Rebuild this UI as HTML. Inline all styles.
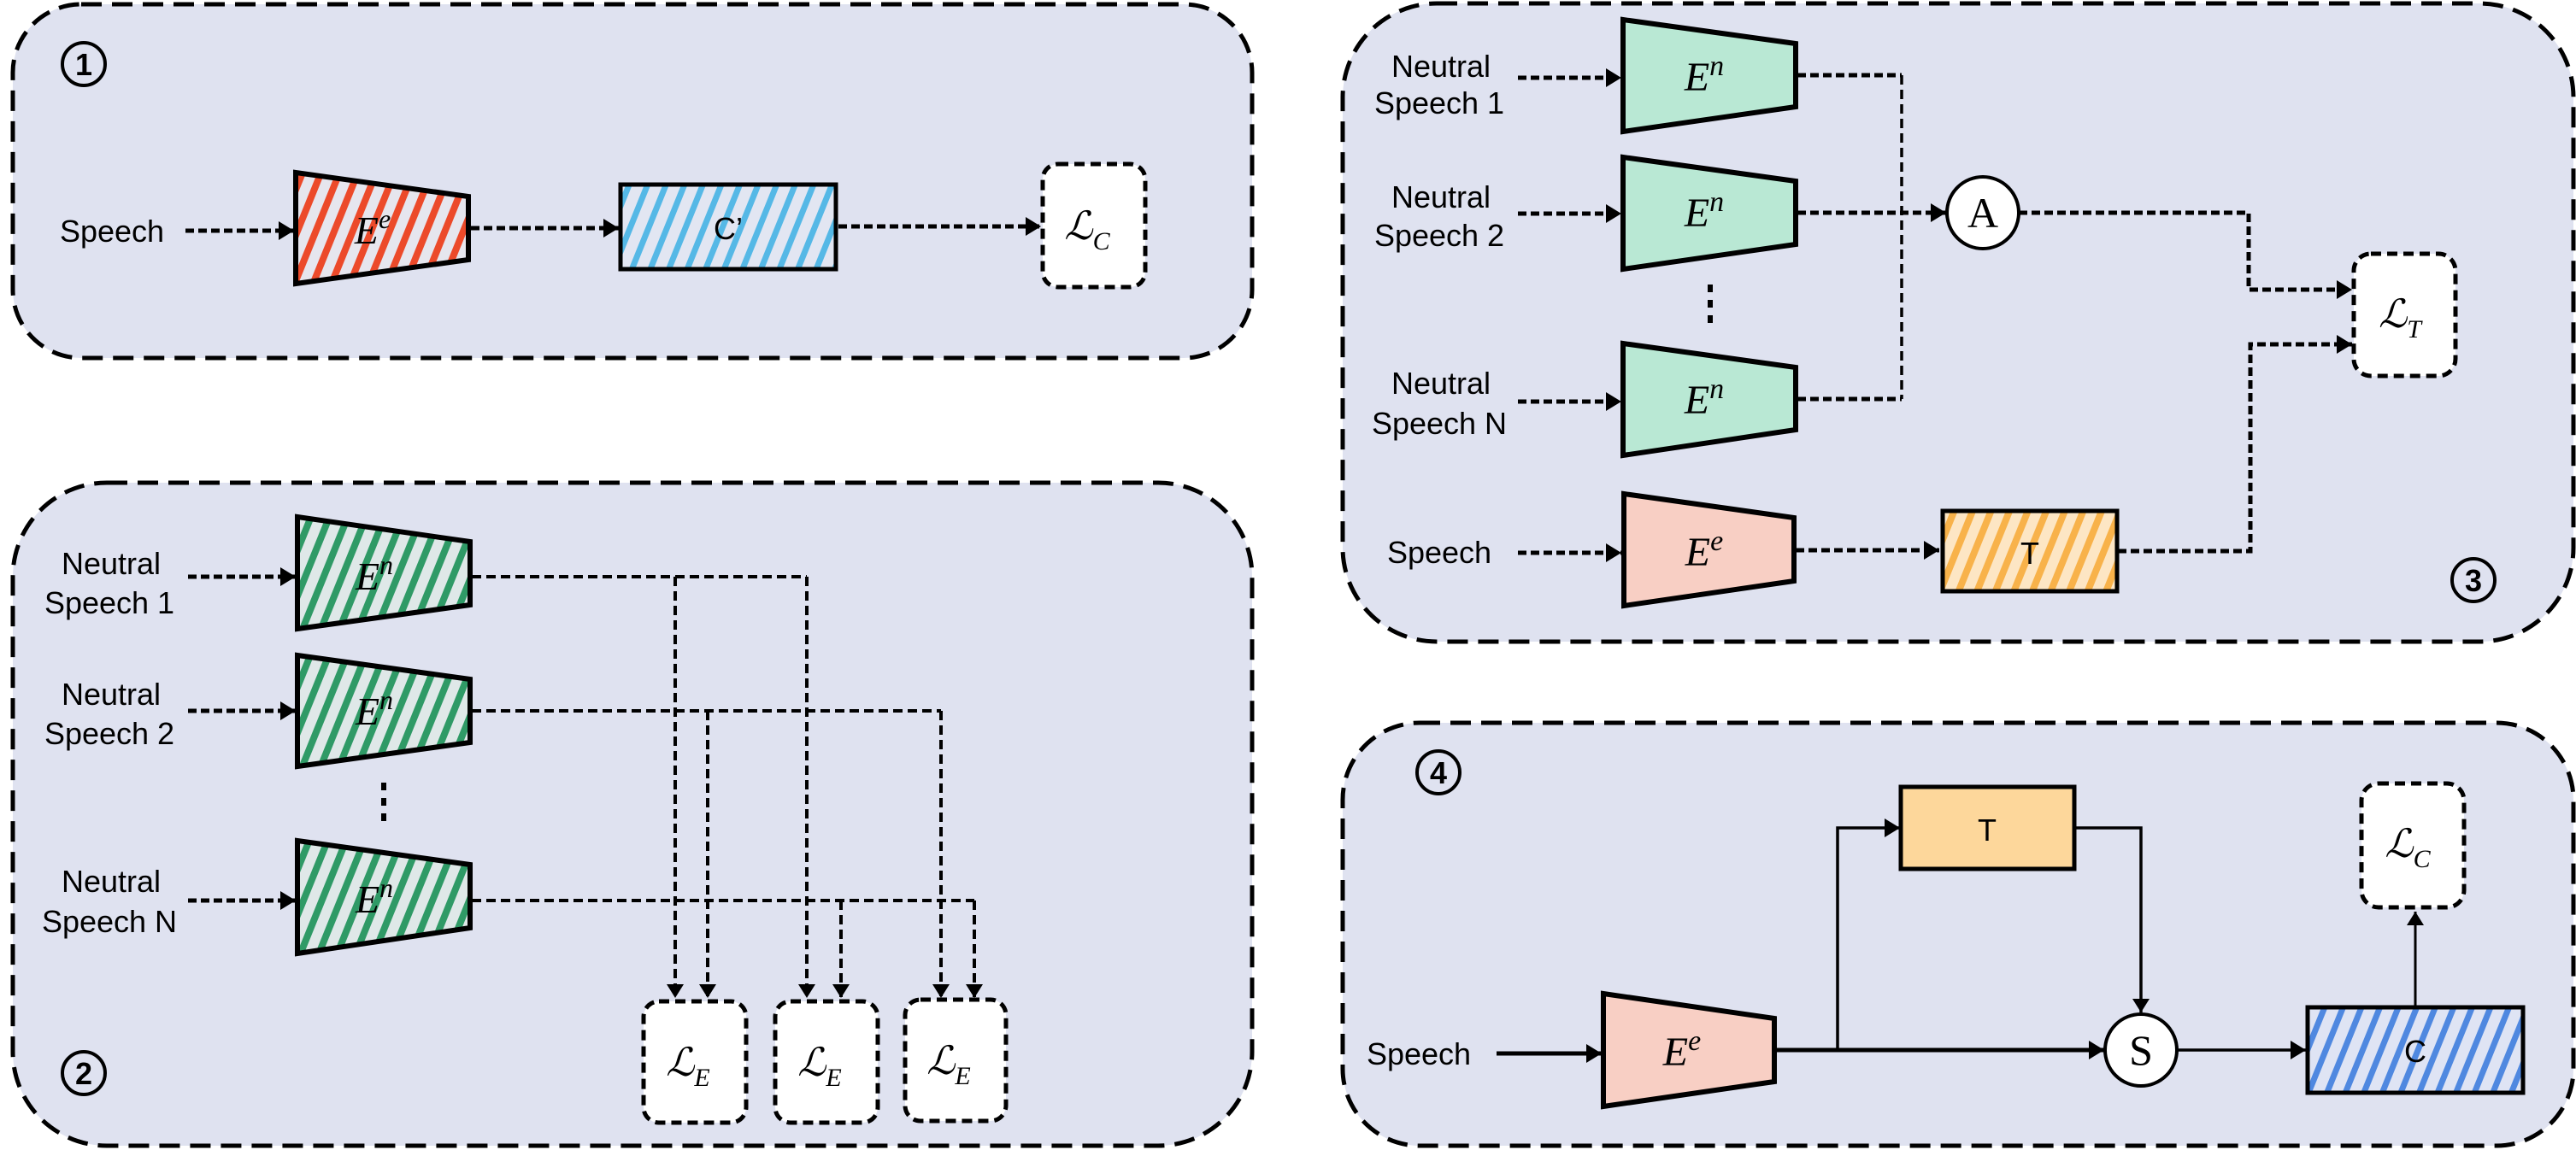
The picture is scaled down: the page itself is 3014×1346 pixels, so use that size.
<!DOCTYPE html>
<html><head><meta charset="utf-8"><style>
html,body{margin:0;padding:0;background:#fff;}
svg{display:block;}
.t{font-family:"Liberation Sans",sans-serif;font-size:36px;fill:#000;}
.m{font-family:"Liberation Serif",serif;font-style:italic;fill:#000;}
.n{font-family:"Liberation Sans",sans-serif;font-weight:bold;font-size:36px;}
</style></head><body>
<svg width="3014" height="1346" viewBox="0 0 3014 1346" xmlns="http://www.w3.org/2000/svg">
<defs>
<pattern id="hr" width="20" height="20" patternUnits="userSpaceOnUse" patternTransform="rotate(22)"><rect width="20" height="20" fill="#e6e6ee"/><rect width="8" height="20" fill="#ec4a2a"/></pattern>
<pattern id="hb" width="20" height="20" patternUnits="userSpaceOnUse" patternTransform="rotate(22)"><rect width="20" height="20" fill="#e2e6f2"/><rect width="7" height="20" fill="#55b8e6"/></pattern>
<pattern id="hg" width="20" height="20" patternUnits="userSpaceOnUse" patternTransform="rotate(22)"><rect width="20" height="20" fill="#dfe8e8"/><rect width="8" height="20" fill="#2f9a66"/></pattern>
<pattern id="ho" width="20" height="20" patternUnits="userSpaceOnUse" patternTransform="rotate(22)"><rect width="20" height="20" fill="#fde6c4"/><rect width="8" height="20" fill="#f8b24a"/></pattern>
<pattern id="hc" width="20" height="20" patternUnits="userSpaceOnUse" patternTransform="rotate(22)"><rect width="20" height="20" fill="#dfe4f4"/><rect width="7" height="20" fill="#4f88e0"/></pattern>
<marker id="a" markerUnits="userSpaceOnUse" markerWidth="20" markerHeight="22" refX="18" refY="11" orient="auto"><path d="M0,0 L18,11 L0,22 Z" fill="#000"/></marker>
<marker id="as" markerUnits="userSpaceOnUse" markerWidth="18" markerHeight="20" refX="16" refY="10" orient="auto"><path d="M0,0 L16,10 L0,20 Z" fill="#000"/></marker>
</defs>

<g fill="#dfe2f0" stroke="#000" stroke-width="5" stroke-dasharray="24 12">
<rect x="15" y="5" width="1450" height="414" rx="80"/>
<rect x="15" y="565" width="1450" height="776" rx="110"/>
<rect x="1571" y="4" width="1440" height="747" rx="110"/>
<rect x="1571" y="846" width="1440" height="495" rx="90"/>
</g>

<g fill="none" stroke="#000" stroke-width="4">
<circle cx="98" cy="75" r="25"/><circle cx="98" cy="1256" r="25"/>
<circle cx="2894" cy="679" r="25"/><circle cx="1683" cy="904" r="25"/>
</g>
<g class="n" text-anchor="middle">
<text x="98" y="88">1</text><text x="98" y="1269">2</text>
<text x="2894" y="692">3</text><text x="1683" y="917">4</text>
</g>

<!-- PANEL 1 -->
<text class="t" x="131" y="283" text-anchor="middle">Speech</text>
<g stroke="#000" stroke-width="5" stroke-dasharray="10 5" fill="none">
<line x1="217" y1="270" x2="344" y2="270" marker-end="url(#a)"/>
<line x1="551" y1="267" x2="724" y2="267" marker-end="url(#a)"/>
<line x1="981" y1="265" x2="1218" y2="265" marker-end="url(#a)"/>
</g>
<polygon points="346,202 548,230 548,304 346,332" fill="url(#hr)" stroke="#000" stroke-width="6"/>
<text class="m" x="436" y="285" font-size="46" text-anchor="middle">E<tspan font-size="32" dy="-18">e</tspan></text>
<rect x="726" y="216" width="252" height="99" fill="url(#hb)" stroke="#000" stroke-width="5"/>
<text class="t" x="852" y="280" text-anchor="middle" font-size="40">C’</text>
<rect x="1220" y="192" width="120" height="144" rx="18" fill="#fff" stroke="#000" stroke-width="5" stroke-dasharray="12 7"/>
<text class="m" x="1272" y="280" font-size="46" text-anchor="middle">ℒ<tspan font-size="30" dy="12">C</tspan></text>

<!-- PANEL 2 -->
<g class="t" text-anchor="middle">
<text x="130" y="672">Neutral</text><text x="128" y="718">Speech 1</text>
<text x="130" y="825">Neutral</text><text x="128" y="871">Speech 2</text>
<text x="130" y="1044">Neutral</text><text x="128" y="1091">Speech N</text>
</g>
<g stroke="#000" stroke-width="5" stroke-dasharray="10 5" fill="none">
<line x1="220" y1="675" x2="346" y2="675" marker-end="url(#a)"/>
<line x1="220" y1="832" x2="346" y2="832" marker-end="url(#a)"/>
<line x1="220" y1="1054" x2="346" y2="1054" marker-end="url(#a)"/>
</g>
<g fill="url(#hg)" stroke="#000" stroke-width="6">
<polygon points="348,605 550,634 550,708 348,736"/>
<polygon points="348,767 550,795 550,869 348,897"/>
<polygon points="348,984 550,1012 550,1086 348,1116"/>
</g>
<g class="m" font-size="46" text-anchor="middle">
<text x="438" y="690">E<tspan font-size="32" dy="-18">n</tspan></text>
<text x="438" y="848">E<tspan font-size="32" dy="-18">n</tspan></text>
<text x="438" y="1068">E<tspan font-size="32" dy="-18">n</tspan></text>
</g>
<line x1="449" y1="916" x2="449" y2="966" stroke="#000" stroke-width="6" stroke-dasharray="9 9"/>
<g stroke="#000" stroke-width="4" stroke-dasharray="11 6" fill="none">
<polyline points="552,675 944,675"/>
<polyline points="552,832 1101,832"/>
<polyline points="552,1054 1140,1054"/>
<line x1="790" y1="675" x2="790" y2="1168" marker-end="url(#as)"/>
<line x1="944" y1="675" x2="944" y2="1168" marker-end="url(#as)"/>
<line x1="828" y1="832" x2="828" y2="1168" marker-end="url(#as)"/>
<line x1="1101" y1="832" x2="1101" y2="1168" marker-end="url(#as)"/>
<line x1="984" y1="1054" x2="984" y2="1168" marker-end="url(#as)"/>
<line x1="1140" y1="1054" x2="1140" y2="1168" marker-end="url(#as)"/>
</g>
<g fill="#fff" stroke="#000" stroke-width="5" stroke-dasharray="12 7">
<rect x="753" y="1172" width="120" height="142" rx="18"/>
<rect x="907" y="1172" width="120" height="142" rx="18"/>
<rect x="1059" y="1170" width="118" height="142" rx="18"/>
</g>
<g class="m" font-size="46" text-anchor="middle">
<text x="805" y="1259">ℒ<tspan font-size="30" dy="12">E</tspan></text>
<text x="959" y="1259">ℒ<tspan font-size="30" dy="12">E</tspan></text>
<text x="1110" y="1257">ℒ<tspan font-size="30" dy="12">E</tspan></text>
</g>

<!-- PANEL 3 -->
<g class="t" text-anchor="middle">
<text x="1686" y="90">Neutral</text><text x="1684" y="133">Speech 1</text>
<text x="1686" y="243">Neutral</text><text x="1684" y="288">Speech 2</text>
<text x="1686" y="461">Neutral</text><text x="1684" y="508">Speech N</text>
<text x="1684" y="659">Speech</text>
</g>
<g stroke="#000" stroke-width="5" stroke-dasharray="10 5" fill="none">
<line x1="1776" y1="91" x2="1897" y2="91" marker-end="url(#a)"/>
<line x1="1776" y1="250" x2="1897" y2="250" marker-end="url(#a)"/>
<line x1="1776" y1="470" x2="1897" y2="470" marker-end="url(#a)"/>
<line x1="1776" y1="647" x2="1897" y2="647" marker-end="url(#a)"/>
<line x1="2101" y1="644" x2="2269" y2="644" marker-end="url(#a)"/>
<line x1="2103" y1="249" x2="2277" y2="249" marker-end="url(#a)"/>
<polyline points="2103,88 2225,88"/>
<polyline points="2103,467 2225,467"/>
<polyline points="2362,249 2631,249 2631,339 2752,339" marker-end="url(#a)"/>
<polyline points="2478,645 2633,645 2633,403 2752,403" marker-end="url(#a)"/>
</g>
<line x1="2225" y1="88" x2="2225" y2="467" stroke="#000" stroke-width="3.5" stroke-dasharray="11 6"/>
<g fill="#b9e8d4" stroke="#000" stroke-width="6">
<polygon points="1899,23 2101,51 2101,125 1899,154"/>
<polygon points="1899,184 2101,212 2101,286 1899,315"/>
<polygon points="1899,402 2101,430 2101,503 1899,533"/>
</g>
<polygon points="1900,578 2099,606 2099,680 1900,709" fill="#f8cfc4" stroke="#000" stroke-width="6"/>
<g class="m" font-size="48" text-anchor="middle">
<text x="1994" y="106">E<tspan font-size="34" dy="-18">n</tspan></text>
<text x="1994" y="265">E<tspan font-size="34" dy="-18">n</tspan></text>
<text x="1994" y="484">E<tspan font-size="34" dy="-18">n</tspan></text>
<text x="1994" y="662">E<tspan font-size="34" dy="-18">e</tspan></text>
</g>
<line x1="2001" y1="333" x2="2001" y2="382" stroke="#000" stroke-width="6" stroke-dasharray="9 9"/>
<circle cx="2320" cy="249" r="42" fill="#fff" stroke="#000" stroke-width="4"/>
<text x="2320" y="266" font-family="Liberation Serif,serif" font-size="50" text-anchor="middle">A</text>
<rect x="2273" y="598" width="204" height="94" fill="url(#ho)" stroke="#000" stroke-width="5"/>
<text class="t" x="2375" y="660" text-anchor="middle" font-size="40">T</text>
<rect x="2754" y="297" width="119" height="143" rx="20" fill="#fff" stroke="#000" stroke-width="5" stroke-dasharray="12 7"/>
<text class="m" x="2808" y="383" font-size="46" text-anchor="middle">ℒ<tspan font-size="30" dy="12">T</tspan></text>

<!-- PANEL 4 -->
<text class="t" x="1660" y="1246" text-anchor="middle">Speech</text>
<g stroke="#000" fill="none">
<line x1="1751" y1="1233" x2="1874" y2="1233" stroke-width="5" marker-end="url(#a)"/>
<line x1="2076" y1="1229" x2="2462" y2="1229" stroke-width="5" marker-end="url(#a)"/>
<polyline points="2150,1229 2150,969 2223,969" stroke-width="3.5" marker-end="url(#a)"/>
<polyline points="2427,969 2505,969 2505,1185" stroke-width="3.5" marker-end="url(#as)"/>
<line x1="2548" y1="1229" x2="2698" y2="1229" stroke-width="3.5" marker-end="url(#a)"/>
<line x1="2826" y1="1179" x2="2826" y2="1067" stroke-width="3" marker-end="url(#as)"/>
</g>
<polygon points="1876,1163 2076,1192 2076,1266 1876,1295" fill="#f8cfc4" stroke="#000" stroke-width="6"/>
<text class="m" x="1968" y="1247" font-size="48" text-anchor="middle">E<tspan font-size="34" dy="-18">e</tspan></text>
<rect x="2224" y="921" width="203" height="96" fill="#fdd79b" stroke="#000" stroke-width="5"/>
<text class="t" x="2325" y="984" text-anchor="middle" font-size="40">T</text>
<circle cx="2505" cy="1229" r="42" fill="#fff" stroke="#000" stroke-width="4"/>
<text x="2505" y="1246" font-family="Liberation Serif,serif" font-size="50" text-anchor="middle">S</text>
<rect x="2700" y="1179" width="252" height="100" fill="url(#hc)" stroke="#000" stroke-width="5"/>
<text class="t" x="2826" y="1243" text-anchor="middle" font-size="40">C</text>
<rect x="2763" y="917" width="120" height="145" rx="20" fill="#fff" stroke="#000" stroke-width="5" stroke-dasharray="12 7"/>
<text class="m" x="2817" y="1003" font-size="46" text-anchor="middle">ℒ<tspan font-size="30" dy="12">C</tspan></text>
</svg>
</body></html>
